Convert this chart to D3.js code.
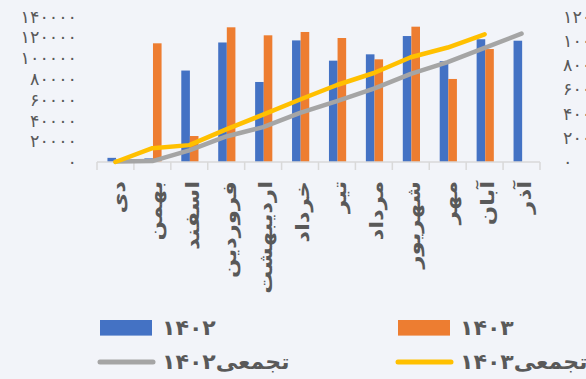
<!DOCTYPE html>
<html>
<head>
<meta charset="utf-8">
<script src="https://cdn.jsdelivr.net/npm/d3@7"></script>
<style>
  html, body { margin: 0; padding: 0; background: #F2F4F9; overflow: hidden; }
  svg { display: block; font-family: "DejaVu Sans", sans-serif; }
</style>
</head>
<body>
<svg id="chart" width="586" height="379"></svg>
<script>
// Monthly figures for 1402 and 1403, with running totals
const months = ["دی", "بهمن", "اسفند", "فروردین", "اردیبهشت", "خرداد", "تیر", "مرداد", "شهریور", "مهر", "آبان", "آذر"];
const sales1402 = [4000, 3500, 88000, 115000, 77000, 117000, 97500, 103600, 121200, 97000, 118100, 116700];
const sales1403 = [0, 114200, 25000, 129600, 121900, 125100, 119300, 98800, 130200, 79900, 108700, null];
const cumulative1402 = [4000, 7500, 95500, 210500, 287500, 404500, 502000, 605600, 726800, 823800, 941900, 1058600];
const cumulative1403 = [0, 114200, 139200, 268800, 390700, 515800, 635100, 733900, 864100, 944000, 1052700];
const leftTicks = [0, 20000, 40000, 60000, 80000, 100000, 120000, 140000];
const rightTicks = [0, 200000, 400000, 600000, 800000, 1000000, 1200000];
const seriesNames = ["۱۴۰۲", "۱۴۰۳", "تجمعی۱۴۰۲", "تجمعی۱۴۰۳"];
const colors = ["#4472C4", "#ED7D31", "#A5A5A5", "#FFC000"];

const faDigits = "۰۱۲۳۴۵۶۷۸۹";
const toFa = v => String(v).replace(/\d/g, d => faDigits[+d]);

const svg = d3.select("#chart");
const textColor = "#595959";

svg.append("rect").attr("width", 586).attr("height", 379).attr("fill", "#F2F4F9");

const x = d3.scaleBand().domain(months).range([97, 540]).padding(0);
const bw = x.bandwidth();
const groupW = 17.2;
const xs = d3.scaleBand().domain([0, 1]).range([(bw - groupW) / 2 + 0.6, (bw + groupW) / 2 + 0.6]);
const yL = d3.scaleLinear().domain([0, 140000]).range([162, 16.5]);
const yR = d3.scaleLinear().domain([0, 1200000]).range([162, 16.5]);

// Left value axis
const axL = svg.append("g").attr("transform", "translate(77,0)")
  .call(d3.axisLeft(yL).tickValues(leftTicks).tickSize(0).tickPadding(0).tickFormat(toFa));
axL.select(".domain").remove();
axL.selectAll("text").attr("fill", textColor).attr("font-size", 17.5).attr("font-family", "DejaVu Sans");

// Right cumulative axis (runs past the page edge)
const axR = svg.append("g").attr("transform", "translate(563,0)")
  .call(d3.axisRight(yR).tickValues(rightTicks).tickSize(0).tickPadding(0).tickFormat(toFa));
axR.select(".domain").remove();
axR.selectAll("text").attr("fill", textColor).attr("font-size", 17.5).attr("font-family", "DejaVu Sans");

// Bars
const barSeries = [sales1402, sales1403];
barSeries.forEach((vals, s) => {
  svg.append("g").selectAll("rect")
    .data(months.map((m, i) => ({ m, v: vals[i] })).filter(d => d.v != null))
    .join("rect")
    .attr("x", d => x(d.m) + xs(s))
    .attr("width", xs.bandwidth())
    .attr("y", d => yL(d.v))
    .attr("height", d => yL(0) - yL(d.v))
    .attr("fill", colors[s]);
});

// Category axis line and ticks
const axisColor = "#D9D9D9";
svg.append("line").attr("x1", x.range()[0]).attr("x2", x.range()[1])
  .attr("y1", 162).attr("y2", 162).attr("stroke", axisColor).attr("stroke-width", 1.5);
const bounds = months.map(m => x(m)).concat([x.range()[1]]);
svg.append("g").selectAll("line").data(bounds).join("line")
  .attr("x1", d => d).attr("x2", d => d).attr("y1", 162).attr("y2", 170)
  .attr("stroke", axisColor).attr("stroke-width", 1.5);

// Category labels, rotated to read downward
svg.append("g").selectAll("text").data(months).join("text")
  .attr("transform", d => `translate(${x(d) + bw / 2 + 3},181) rotate(-90) scale(1.2,1)`)
  .attr("text-anchor", "end")
  .attr("dominant-baseline", "central")
  .attr("font-size", 19)
  .attr("font-weight", "bold")
  .attr("fill", textColor)
  .text(d => d);

// Cumulative lines
const line = d3.line().x((d, i) => x(months[i]) + bw / 2).y(d => yR(d));
[cumulative1402, cumulative1403].forEach((vals, k) => {
  svg.append("path").datum(vals)
    .attr("d", line)
    .attr("fill", "none")
    .attr("stroke", colors[k + 2])
    .attr("stroke-width", 4.5)
    .attr("stroke-linecap", "round")
    .attr("stroke-linejoin", "round");
});

// Legend
const legendItems = [
  { name: seriesNames[0], color: colors[0], type: "bar", x: 100, y: 328 },
  { name: seriesNames[1], color: colors[1], type: "bar", x: 398, y: 328 },
  { name: seriesNames[2], color: colors[2], type: "line", x: 100, y: 362 },
  { name: seriesNames[3], color: colors[3], type: "line", x: 398, y: 362 }
];
const lg = svg.append("g").selectAll("g").data(legendItems).join("g")
  .attr("transform", d => `translate(${d.x},${d.y})`);
lg.filter(d => d.type === "bar").append("rect")
  .attr("x", 0).attr("y", -8).attr("width", 52).attr("height", 15.6)
  .attr("fill", d => d.color);
lg.filter(d => d.type === "line").append("line")
  .attr("x1", 0).attr("x2", 53).attr("y1", 0).attr("y2", 0)
  .attr("stroke", d => d.color).attr("stroke-width", 5).attr("stroke-linecap", "round");
lg.append("text")
  .attr("transform", "translate(62,0) scale(1.05,1)")
  .attr("dominant-baseline", "central")
  .attr("font-size", 21)
  .attr("font-weight", "bold")
  .attr("fill", textColor)
  .text(d => d.name);
</script>
</body>
</html>
